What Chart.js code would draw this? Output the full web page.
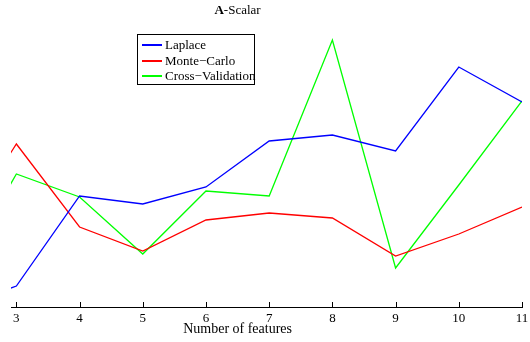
<!DOCTYPE html>
<html>
<head>
<meta charset="utf-8">
<script src="https://cdn.jsdelivr.net/npm/chart.js@4.4.1/dist/chart.umd.min.js"></script>
<style>
  html, body { margin: 0; padding: 0; background: #fff; }
  #wrap { position: relative; width: 530px; height: 342px; }
  #legend {
    position: absolute; left: 137px; top: 34px; width: 116px; height: 49px;
    border: 1px solid #000; background: #fff;
    font: 13px "Liberation Serif", "Times New Roman", serif; color: #000;
  }
  #legend .row { position: absolute; left: 0; height: 16px; line-height: 16px; white-space: nowrap; }
  #legend .swatch { position: absolute; left: 4px; top: 7px; width: 20px; height: 0; border-top: 2px solid; }
  #legend .txt { position: absolute; left: 27px; top: 0; }
</style>
</head>
<body>
<div id="wrap">
  <canvas id="c" width="530" height="342"></canvas>
  <div id="legend"></div>
</div>
<script>
// Number of features on the x axis (x = 2 lies just left of the visible range)
const features = [2, 3, 4, 5, 6, 7, 8, 9, 10, 11];
const xTicks = [3, 4, 5, 6, 7, 8, 9, 10, 11];

// Scores per method
const laplace         = [-2, 21, 111, 103, 120, 166, 172, 156, 240, 205];
const monteCarlo      = [65, 163, 80, 56, 87, 94, 89, 51, 73, 100];
const crossValidation = [23, 133, 110, 53, 116, 111, 267, 39, 122, 206];

const seriesNames  = ['Laplace', 'Monte\u2212Carlo', 'Cross\u2212Validation'];
const seriesColors = ['#0000ff', '#ff0000', '#00ff00'];

const titleBold = 'A';
const titleRest = '-Scalar';
const xLabel = 'Number of features';

const serif = '"Liberation Serif", "Times New Roman", serif';

const toPoints = arr => arr.map((v, i) => ({ x: features[i], y: v }));

const datasets = [laplace, monteCarlo, crossValidation].map((vals, i) => ({
  label: seriesNames[i],
  data: toPoints(vals),
  borderColor: seriesColors[i],
  backgroundColor: seriesColors[i],
  borderWidth: 1.3,
  pointRadius: 0,
  tension: 0,
  fill: false
}));

// Title, x-axis caption, axis line and inward tick marks
const captions = {
  id: 'captions',
  afterDraw(chart) {
    const ctx = chart.ctx;
    const xs = chart.scales.x;
    const area = chart.chartArea;
    const cx = xs.getPixelForValue((features[0] + features[features.length - 1]) / 2);
    ctx.save();
    ctx.fillStyle = '#000';
    ctx.textBaseline = 'middle';
    ctx.font = 'bold 13px ' + serif;
    const wb = ctx.measureText(titleBold).width;
    ctx.font = '13px ' + serif;
    const wr = ctx.measureText(titleRest).width;
    const start = cx - (wb + wr) / 2;
    ctx.textAlign = 'left';
    ctx.font = 'bold 13px ' + serif;
    ctx.fillText(titleBold, start, 11);
    ctx.font = '13px ' + serif;
    ctx.fillText(titleRest, start + wb, 11);
    ctx.textAlign = 'center';
    ctx.font = '14px ' + serif;
    ctx.fillText(xLabel, cx, 329);
    // axis line and tick marks pointing into the plot
    const yb = Math.round(area.bottom);
    ctx.fillRect(Math.round(area.left), yb, Math.round(area.right - area.left) + 1, 1);
    xs.ticks.forEach(t => {
      const px = Math.round(xs.getPixelForValue(t.value));
      ctx.fillRect(px, yb - 5, 1, 5);
    });
    ctx.restore();
  }
};

const chart = new Chart(document.getElementById('c'), {
  type: 'line',
  data: { datasets },
  options: {
    responsive: false,
    animation: false,
    layout: { padding: { left: 11, right: 8, top: 27, bottom: 0 } },
    plugins: { legend: { display: false }, title: { display: false }, tooltip: { enabled: false } },
    scales: {
      x: {
        type: 'linear',
        min: 2.915,
        max: 11,
        afterBuildTicks: axis => { axis.ticks = xTicks.map(v => ({ value: v })); },
        afterFit: s => { s.height = 35; s.paddingLeft = 0; s.paddingRight = 0; },
        grid: { display: false, drawTicks: false },
        border: { display: false },
        ticks: { color: '#000', font: { family: serif, size: 13 }, padding: 4, maxRotation: 0, autoSkip: false }
      },
      y: {
        display: false,
        min: 0,
        max: 280
      }
    }
  },
  plugins: [captions]
});

// Legend box built from the chart's own datasets
const legendEl = document.getElementById('legend');
chart.data.datasets.forEach((ds, i) => {
  const row = document.createElement('div');
  row.className = 'row';
  row.style.top = (2 + i * 15.7) + 'px';
  const sw = document.createElement('span');
  sw.className = 'swatch';
  sw.style.borderTopColor = ds.borderColor;
  const tx = document.createElement('span');
  tx.className = 'txt';
  tx.textContent = ds.label;
  row.appendChild(sw);
  row.appendChild(tx);
  legendEl.appendChild(row);
});
</script>
</body>
</html>
